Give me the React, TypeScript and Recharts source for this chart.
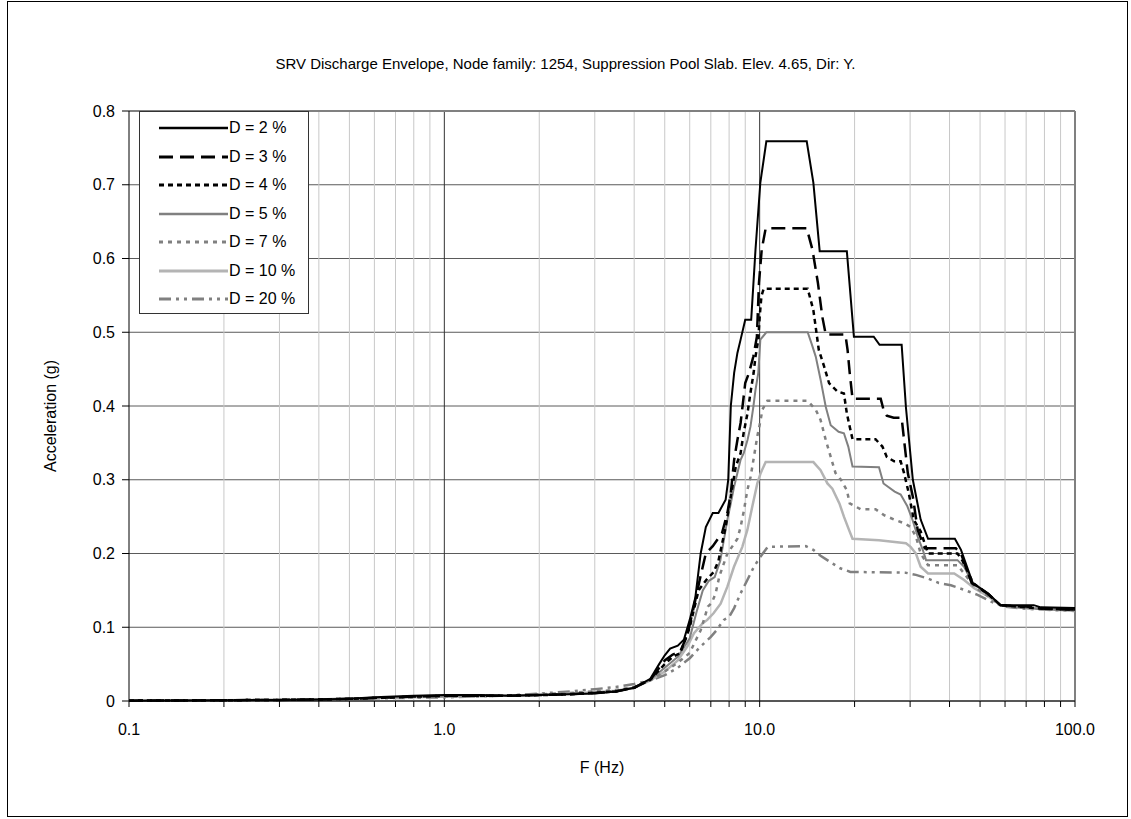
import React from 'react';
import { LineChart, Line, XAxis, YAxis, CartesianGrid, ReferenceLine, Label } from 'recharts';

const FONT = 'Arial, "Liberation Sans", sans-serif';

// axis ticks
const DECADES = [0.1, 1, 10];
const STEPS = [1, 2, 3, 4, 5, 6, 7, 8, 9];
const X_TICKS = [...DECADES.flatMap((d) => STEPS.map((m) => +(d * m).toPrecision(3))), 100];
const X_LABELS: Record<string, string> = { '0.1': '0.1', '1': '1.0', '10': '10.0', '100': '100.0' };
const Y_TICKS = [0, 0.1, 0.2, 0.3, 0.4, 0.5, 0.6, 0.7, 0.8];

const TITLE = 'SRV Discharge Envelope, Node family: 1254, Suppression Pool Slab. Elev. 4.65, Dir: Y.';

// [frequency Hz, acceleration g]
const d2: [number, number][] = [
  [0.1, 0.0005], [0.2, 0.001], [0.3, 0.0015], [0.4, 0.002], [0.5, 0.003], [0.6, 0.005], [0.8, 0.007],
  [1.0, 0.008], [1.3, 0.008], [1.6, 0.007], [2.0, 0.008], [2.5, 0.009], [3.0, 0.01], [3.5, 0.013],
  [4.0, 0.018], [4.5, 0.03], [4.8, 0.05], [5.0, 0.062], [5.2, 0.071], [5.5, 0.075], [5.75, 0.083],
  [6.0, 0.11], [6.25, 0.14], [6.5, 0.2], [6.75, 0.236], [7.1, 0.255], [7.4, 0.255], [7.8, 0.273],
  [7.95, 0.3], [8.1, 0.4], [8.3, 0.445], [8.5, 0.472], [8.7, 0.49], [9.0, 0.517], [9.4, 0.517],
  [9.7, 0.612], [10.05, 0.703], [10.5, 0.759], [14.1, 0.759], [14.8, 0.703], [15.5, 0.61], [18.9, 0.61],
  [19.9, 0.494], [23.0, 0.494], [24.0, 0.483], [28.2, 0.483], [29.1, 0.398], [30.6, 0.3], [32.4, 0.246],
  [34.2, 0.22], [41.6, 0.22], [43.5, 0.205], [47.4, 0.16], [53, 0.146], [58, 0.13], [74, 0.13],
  [78, 0.127], [100, 0.126],
];

const d3: [number, number][] = [
  [0.1, 0.0005], [0.2, 0.001], [0.3, 0.0015], [0.4, 0.002], [0.5, 0.003], [0.6, 0.004], [0.8, 0.006],
  [1.0, 0.007], [1.5, 0.007], [2.0, 0.008], [2.5, 0.009], [3.0, 0.011], [3.5, 0.013], [4.0, 0.018],
  [4.5, 0.029], [5.0, 0.055], [5.3, 0.063], [5.6, 0.067], [5.9, 0.09], [6.2, 0.13], [6.5, 0.17],
  [6.75, 0.2], [7.1, 0.21], [7.6, 0.228], [7.9, 0.255], [8.1, 0.282], [8.3, 0.327], [8.5, 0.354],
  [8.7, 0.377], [9.0, 0.431], [9.25, 0.445], [9.55, 0.467], [9.8, 0.494], [9.95, 0.567], [10.15, 0.612],
  [10.45, 0.641], [14.1, 0.641], [14.7, 0.612], [15.3, 0.567], [15.8, 0.521], [16.2, 0.497], [18.7, 0.497],
  [19.0, 0.476], [19.3, 0.445], [19.7, 0.41], [24.2, 0.41], [24.7, 0.395], [25.3, 0.387], [26.6, 0.384],
  [28.2, 0.384], [28.7, 0.354], [29.5, 0.309], [30.6, 0.277], [31.7, 0.232], [33.4, 0.207], [41.9, 0.207],
  [43.5, 0.2], [47, 0.16], [53, 0.145], [58, 0.13], [70, 0.128], [80, 0.125], [100, 0.124],
];

const d4: [number, number][] = [
  [0.1, 0.0005], [0.2, 0.001], [0.3, 0.0015], [0.4, 0.002], [0.5, 0.003], [0.6, 0.004], [0.8, 0.006],
  [1.0, 0.007], [1.5, 0.007], [2.0, 0.008], [2.5, 0.009], [3.0, 0.011], [3.5, 0.013], [4.0, 0.018],
  [4.5, 0.029], [5.0, 0.05], [5.3, 0.06], [5.6, 0.065], [6.0, 0.1], [6.4, 0.15], [6.8, 0.165],
  [7.15, 0.175], [7.4, 0.19], [7.8, 0.236], [8.0, 0.264], [8.2, 0.291], [8.4, 0.318], [8.7, 0.336],
  [8.9, 0.364], [9.15, 0.39], [9.35, 0.418], [9.57, 0.445], [9.7, 0.467], [9.9, 0.49], [10.0, 0.521],
  [10.13, 0.549], [10.3, 0.559], [14.2, 0.559], [14.8, 0.53], [15.1, 0.503], [15.4, 0.476], [16.0, 0.454],
  [16.6, 0.431], [17.6, 0.42], [18.5, 0.417], [18.9, 0.39], [19.3, 0.372], [19.7, 0.355], [23.3, 0.355],
  [24.5, 0.345], [25.3, 0.331], [26.7, 0.325], [28.0, 0.325], [28.7, 0.309], [29.7, 0.282], [30.8, 0.246],
  [32.4, 0.23], [34.2, 0.2], [42.4, 0.2], [44.0, 0.19], [47.5, 0.16], [53, 0.145], [58, 0.13],
  [70, 0.127], [80, 0.125], [100, 0.124],
];

const d5: [number, number][] = [
  [0.1, 0.0005], [0.2, 0.001], [0.3, 0.0015], [0.4, 0.002], [0.5, 0.003], [0.6, 0.004], [0.8, 0.006],
  [1.0, 0.006], [1.5, 0.007], [2.0, 0.008], [2.5, 0.01], [3.0, 0.011], [3.5, 0.013], [4.0, 0.018],
  [4.5, 0.029], [5.0, 0.045], [5.5, 0.06], [6.0, 0.085], [6.3, 0.12], [6.6, 0.15], [6.9, 0.163],
  [7.2, 0.168], [7.5, 0.19], [7.9, 0.246], [8.1, 0.268], [8.3, 0.291], [8.5, 0.309], [8.7, 0.327],
  [8.9, 0.336], [9.15, 0.354], [9.35, 0.372], [9.55, 0.399], [9.7, 0.422], [9.9, 0.445], [10.05, 0.49],
  [10.5, 0.5], [14.2, 0.5], [14.6, 0.485], [15.06, 0.467], [15.6, 0.436], [16.2, 0.399], [16.8, 0.374],
  [17.8, 0.365], [18.5, 0.363], [19.1, 0.345], [19.7, 0.318], [23.9, 0.317], [24.7, 0.295], [26.8, 0.284],
  [28.0, 0.28], [29.4, 0.264], [30.5, 0.246], [31.7, 0.223], [32.9, 0.205], [33.7, 0.191], [42.4, 0.191],
  [44.5, 0.182], [47.3, 0.16], [53, 0.145], [58, 0.13], [70, 0.126], [100, 0.123],
];

const d7: [number, number][] = [
  [0.1, 0.0005], [0.2, 0.001], [0.3, 0.0015], [0.4, 0.002], [0.5, 0.003], [0.6, 0.004], [0.8, 0.005],
  [1.0, 0.006], [1.5, 0.007], [2.0, 0.009], [2.5, 0.011], [3.0, 0.013], [3.5, 0.015], [4.0, 0.019],
  [4.5, 0.028], [5.0, 0.04], [5.5, 0.052], [6.0, 0.065], [6.2, 0.078], [6.5, 0.096], [6.7, 0.114],
  [6.85, 0.128], [7.05, 0.133], [7.25, 0.146], [7.45, 0.169], [7.9, 0.2], [8.2, 0.21], [8.5, 0.22],
  [8.7, 0.236], [8.92, 0.259], [9.14, 0.286], [9.36, 0.304], [9.59, 0.331], [9.83, 0.359], [10.07, 0.381],
  [10.2, 0.395], [10.58, 0.407], [14.2, 0.407], [15.06, 0.395], [15.6, 0.381], [16.2, 0.354], [16.8, 0.331],
  [17.4, 0.309], [18.1, 0.3], [18.9, 0.286], [19.3, 0.268], [20.9, 0.26], [23.3, 0.26], [24.8, 0.252],
  [26.7, 0.246], [28.7, 0.241], [30.1, 0.236], [31.3, 0.223], [32.4, 0.2], [34.2, 0.184], [42.4, 0.184],
  [44.5, 0.173], [47.9, 0.155], [53, 0.142], [58, 0.13], [70, 0.126], [100, 0.123],
];

const d10: [number, number][] = [
  [0.1, 0.0005], [0.2, 0.001], [0.3, 0.0015], [0.4, 0.002], [0.5, 0.003], [0.6, 0.004], [0.8, 0.005],
  [1.0, 0.006], [1.5, 0.007], [2.0, 0.008], [2.5, 0.01], [3.0, 0.012], [3.5, 0.014], [4.0, 0.018],
  [4.5, 0.028], [5.0, 0.04], [5.5, 0.055], [5.9, 0.074], [6.19, 0.092], [6.58, 0.105], [6.82, 0.11],
  [7.14, 0.119], [7.52, 0.132], [7.9, 0.155], [8.29, 0.182], [8.81, 0.209], [9.14, 0.232], [9.48, 0.264],
  [9.83, 0.295], [10.07, 0.309], [10.45, 0.324], [14.8, 0.324], [15.6, 0.313], [16.4, 0.295], [17.0, 0.288],
  [17.9, 0.268], [18.5, 0.25], [19.2, 0.232], [19.7, 0.22], [23.9, 0.218], [29.1, 0.214], [30.1, 0.209],
  [31.3, 0.2], [32.4, 0.182], [34.2, 0.173], [41.4, 0.173], [44.5, 0.164], [47.9, 0.153], [53, 0.142],
  [58, 0.13], [70, 0.126], [100, 0.122],
];

const d20: [number, number][] = [
  [0.1, 0.0005], [0.2, 0.001], [0.3, 0.0015], [0.4, 0.002], [0.5, 0.003], [0.7, 0.004], [1.0, 0.005],
  [1.5, 0.007], [2.0, 0.01], [2.5, 0.013], [3.0, 0.016], [3.5, 0.019], [4.0, 0.023], [4.5, 0.028],
  [5.0, 0.035], [5.5, 0.045], [6.0, 0.058], [6.5, 0.074], [7.0, 0.087], [7.3, 0.096], [7.7, 0.11],
  [8.0, 0.114], [8.3, 0.126], [8.7, 0.146], [9.14, 0.164], [9.59, 0.182], [10.07, 0.196], [10.6, 0.209],
  [14.0, 0.21], [14.8, 0.205], [15.6, 0.197], [16.8, 0.188], [18.0, 0.18], [19.4, 0.175], [29.0, 0.174],
  [31.3, 0.171], [34.2, 0.166], [37.0, 0.16], [40.4, 0.157], [44.3, 0.151], [49.1, 0.144], [55.3, 0.133],
  [60, 0.128], [70, 0.125], [100, 0.122],
];

const SERIES = [
  { name: 'D = 2 %', points: d2, color: '#000000', width: 2, dash: undefined },
  { name: 'D = 3 %', points: d3, color: '#000000', width: 2.5, dash: '14 7' },
  { name: 'D = 4 %', points: d4, color: '#000000', width: 2.5, dash: '5 4' },
  { name: 'D = 5 %', points: d5, color: '#808080', width: 2, dash: undefined },
  { name: 'D = 7 %', points: d7, color: '#808080', width: 2.5, dash: '4 5' },
  { name: 'D = 10 %', points: d10, color: '#b4b4b4', width: 2.5, dash: undefined },
  { name: 'D = 20 %', points: d20, color: '#808080', width: 2.5, dash: '12 5 3 5 3 5' },
];

const toRows = (pts: [number, number][]) => pts.map(([f, a]) => ({ f, a }));

export default function App() {
  const gridX = X_TICKS.filter((t) => t > 0.1 && t < 100);

  return (
    <div style={{ position: 'absolute', left: 0, top: 0, width: 1131, height: 819, background: '#fff', fontFamily: FONT }}>
      <div
        style={{
          position: 'absolute', left: 7, top: 1, width: 1121, height: 816,
          border: '1px solid #000', boxSizing: 'border-box',
        }}
      />
      <div style={{ position: 'absolute', left: 0, top: 55, width: 1131, textAlign: 'center', fontSize: 15, color: '#000' }}>
        {TITLE}
      </div>

      <LineChart
        width={1131}
        height={819}
        margin={{ top: 111, right: 56, bottom: 38, left: 49 }}
        style={{ position: 'absolute', left: 0, top: 0 }}
      >
        <CartesianGrid vertical={false} stroke="#5a5a5a" />
        {gridX.map((t) => (
          <ReferenceLine
            key={`vx-${t}`}
            x={t}
            stroke={t === 1 || t === 10 ? '#333333' : '#c8c8c8'}
            strokeWidth={1}
          />
        ))}
        <ReferenceLine y={0.8} stroke="#808080" strokeWidth={2} />
        <ReferenceLine x={100} stroke="#808080" strokeWidth={2} />
        <XAxis
          dataKey="f"
          type="number"
          scale="log"
          domain={[0.1, 100]}
          allowDataOverflow
          ticks={X_TICKS}
          interval={0}
          tickFormatter={(v: number) => X_LABELS[String(v)] ?? ''}
          tickSize={6}
          tickMargin={17}
          height={80}
          stroke="#000"
          tick={{ fill: '#000', fontSize: 16, fontFamily: FONT }}
        >
          <Label value="F (Hz)" position="insideBottom" offset={8} fill="#000" fontSize={16} fontFamily={FONT} />
        </XAxis>
        <YAxis
          type="number"
          domain={[0, 0.8]}
          ticks={Y_TICKS}
          interval={0}
          tickFormatter={(v: number) => (v === 0 ? '0' : v.toFixed(1))}
          tickSize={7}
          tickMargin={7}
          width={80}
          stroke="#000"
          tick={{ fill: '#000', fontSize: 16, fontFamily: FONT }}
        >
          <Label
            content={() => (
              <text
                x={50}
                y={416}
                transform="rotate(-90 50 416)"
                textAnchor="middle"
                dominantBaseline="central"
                fontSize={16}
                fontFamily={FONT}
                fill="#000"
              >
                Acceleration (g)
              </text>
            )}
          />
        </YAxis>
        {[...SERIES].reverse().map((s) => (
          <Line
            key={s.name}
            data={toRows(s.points)}
            dataKey="a"
            name={s.name}
            type="linear"
            stroke={s.color}
            strokeWidth={s.width}
            strokeDasharray={s.dash}
            dot={false}
            activeDot={false}
            isAnimationActive={false}
          />
        ))}
      </LineChart>

      <div
        style={{
          position: 'absolute', left: 139, top: 111, width: 170, height: 203,
          border: '1px solid #333', background: '#fff', boxSizing: 'border-box',
        }}
      >
        {SERIES.map((s, i) => (
          <div
            key={s.name}
            style={{ position: 'absolute', left: 19, top: 7 + i * 28.5, height: 18, display: 'flex', alignItems: 'center' }}
          >
            <svg width={69} height={18}>
              <line x1={0} y1={9} x2={69} y2={9} stroke={s.color} strokeWidth={s.width + 0.5} strokeDasharray={s.dash} />
            </svg>
            <span style={{ fontSize: 16, marginLeft: 1, color: '#000', whiteSpace: 'nowrap' }}>{s.name}</span>
          </div>
        ))}
      </div>
    </div>
  );
}
